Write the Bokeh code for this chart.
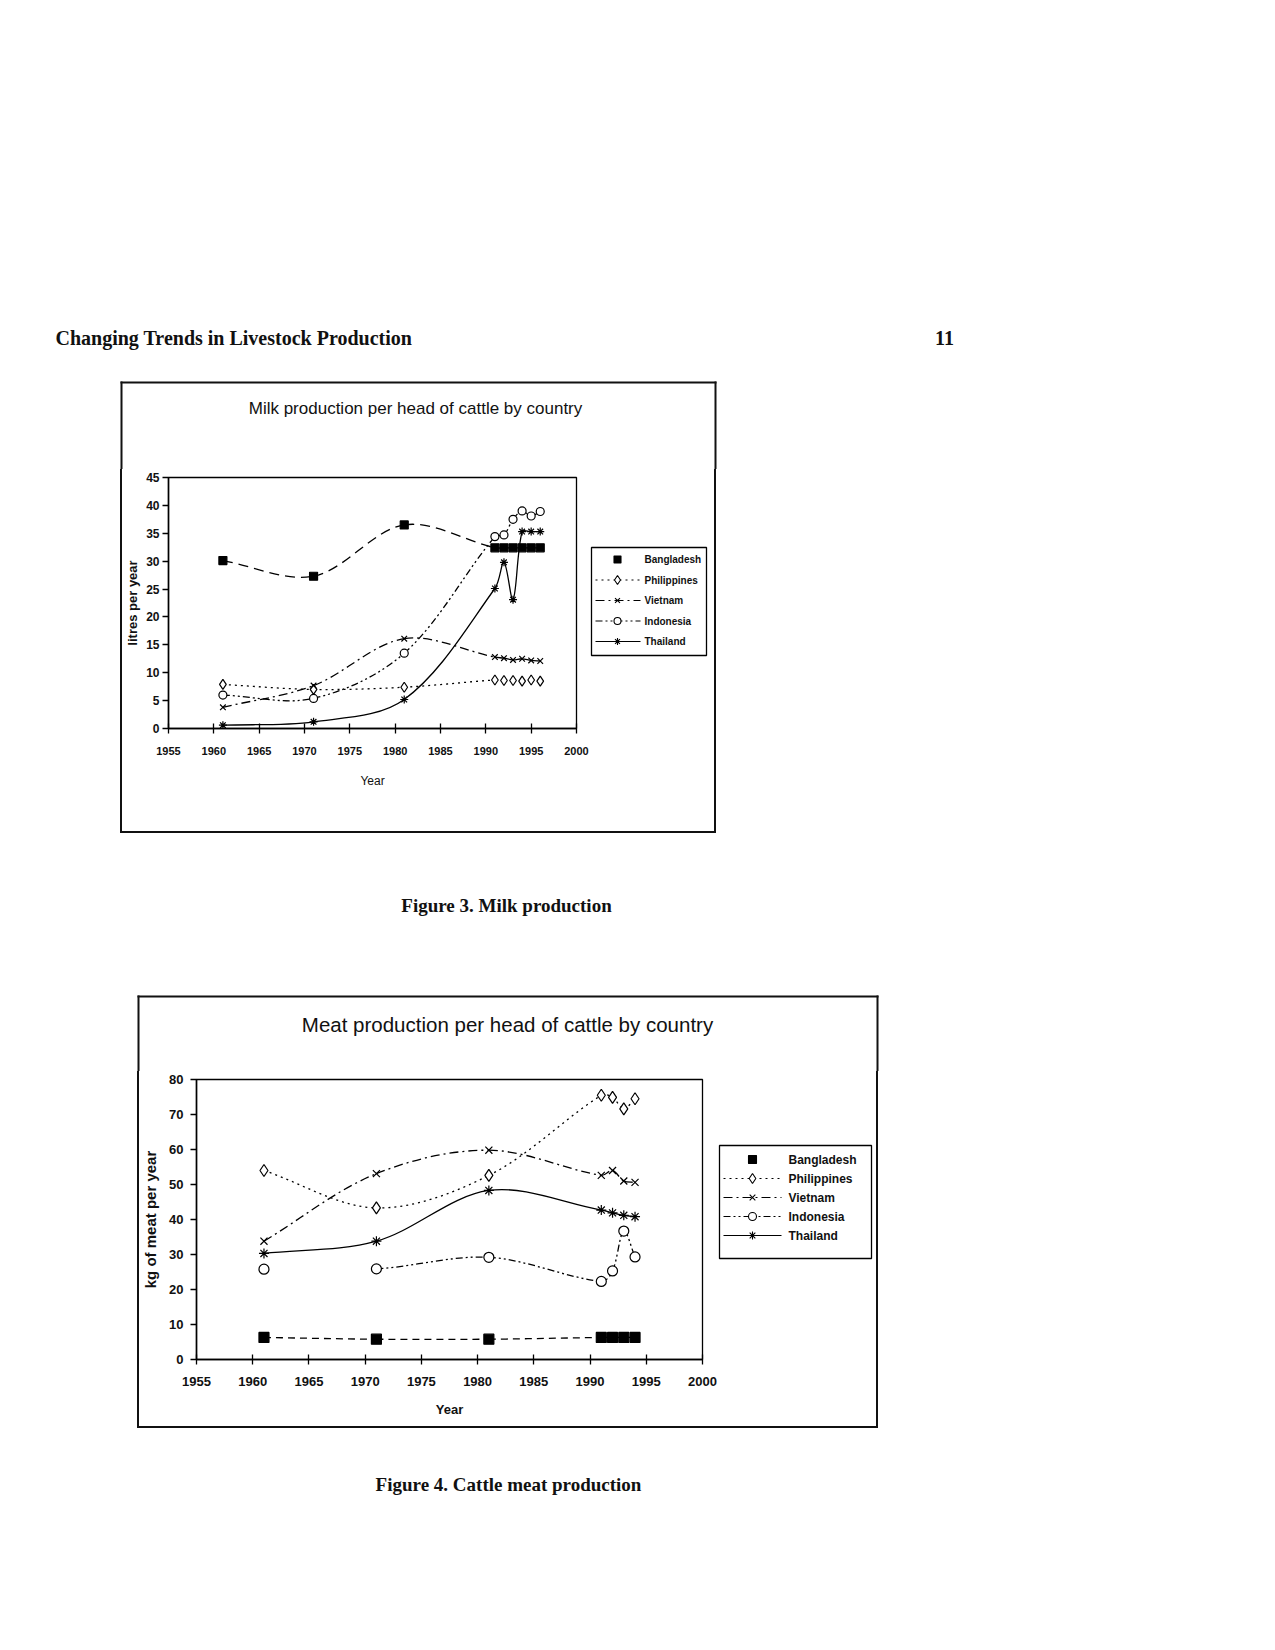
from math import hypot
from bokeh.plotting import figure
from bokeh.models import Range1d, FixedTicker, ColumnDataSource, Spacer
from bokeh.layouts import column, row
from bokeh.embed import file_html
from bokeh.resources import INLINE
from bokeh.core.properties import value

# ---------------- data ----------------
page_title = "Changing Trends in Livestock Production"
page_number = "11"
countries = ["Bangladesh", "Philippines", "Vietnam", "Indonesia", "Thailand"]

x_ticks = [1955, 1960, 1965, 1970, 1975, 1980, 1985, 1990, 1995, 2000]

milk_title = "Milk production per head of cattle by country"
milk_ylabel = "litres per year"
milk_xlabel = "Year"
milk_caption = "Figure 3. Milk production"
milk_y_ticks = [0, 5, 10, 15, 20, 25, 30, 35, 40, 45]
milk_years = [1961, 1971, 1981, 1991, 1992, 1993, 1994, 1995, 1996]
milk_bangladesh = [30.1, 27.3, 36.5, 32.4, 32.4, 32.4, 32.4, 32.4, 32.4]
milk_philippines = [7.9, 7.0, 7.4, 8.7, 8.6, 8.6, 8.5, 8.7, 8.5]
milk_vietnam = [3.8, 7.7, 16.1, 12.8, 12.6, 12.3, 12.5, 12.2, 12.1]
milk_indonesia = [6.0, 5.4, 13.5, 34.4, 34.7, 37.5, 39.0, 38.1, 38.9]
milk_thailand = [0.6, 1.2, 5.2, 25.1, 29.8, 23.1, 35.3, 35.3, 35.3]

meat_title = "Meat production per head of cattle by country"
meat_ylabel = "kg of meat per year"
meat_xlabel = "Year"
meat_caption = "Figure 4. Cattle meat production"
meat_y_ticks = [0, 10, 20, 30, 40, 50, 60, 70, 80]
meat_years = [1961, 1971, 1981, 1991, 1992, 1993, 1994]
meat_bangladesh = [6.3, 5.8, 5.8, 6.3, 6.3, 6.3, 6.3]
meat_philippines = [54.0, 43.3, 52.6, 75.5, 74.9, 71.6, 74.5]
meat_vietnam = [33.8, 53.1, 59.8, 52.6, 54.0, 51.0, 50.6]
meat_indonesia = [25.8, 25.9, 29.2, 22.3, 25.3, 36.7, 29.3]
meat_thailand = [30.3, 33.8, 48.3, 42.7, 41.9, 41.2, 40.8]

# ---------------- styles ----------------
SANS = "Liberation Sans"
SERIF = "Liberation Serif"
INK = "#111"
PAGE_W = 1267
MT = 8  # space above each plot area inside its chart canvas

series_style = {
    "Bangladesh": dict(marker="square", fill="black", dash="9 6"),
    "Philippines": dict(marker="diamond", fill="white", dash="2 4"),
    "Vietnam": dict(marker="x", fill="white", dash="9 4 2 4"),
    "Indonesia": dict(marker="circle", fill="white", dash="7 3 2 3 2 3"),
    "Thailand": dict(marker="asterisk", fill="white", dash="solid"),
}


def smooth_source(xs, ys, kx, ky, skip=()):
    """Excel-like smoothed line as cubic bezier pieces through the data points."""
    n = len(xs)
    d = [hypot((xs[i + 1] - xs[i]) * kx, (ys[i + 1] - ys[i]) * ky) for i in range(n - 1)]
    cols = dict(x0=[], y0=[], x1=[], y1=[], cx0=[], cy0=[], cx1=[], cy1=[])
    for i in range(n - 1):
        if i in skip:
            continue
        a = i - 1 if i > 0 else i
        b = i + 2 if i + 2 < n else i + 1
        dp = d[i - 1] if i > 0 else 0.0
        dn = d[i + 1] if i + 1 < n - 1 else 0.0
        w0 = d[i] / (dp + d[i]) / 3.0 if d[i] > 0 else 0
        w1 = d[i] / (d[i] + dn) / 3.0 if d[i] > 0 else 0
        cols["x0"].append(xs[i]); cols["y0"].append(ys[i])
        cols["x1"].append(xs[i + 1]); cols["y1"].append(ys[i + 1])
        cols["cx0"].append(xs[i] + (xs[i + 1] - xs[a]) * w0)
        cols["cy0"].append(ys[i] + (ys[i + 1] - ys[a]) * w0)
        cols["cx1"].append(xs[i + 1] - (xs[b] - xs[i]) * w1)
        cols["cy1"].append(ys[i + 1] - (ys[b] - ys[i]) * w1)
    return ColumnDataSource(cols)


def page_fig(width, height, x0, y0):
    """A blank piece of the page, addressed in page pixels (y downwards)."""
    p = figure(width=width, height=height, x_range=Range1d(x0, x0 + width),
               y_range=Range1d(y0 + height, y0), output_backend="svg", toolbar_location=None,
               min_border=0, x_axis_location=None, y_axis_location=None)
    p.grid.visible = False
    p.outline_line_color = None
    return p


def box_top(p, cfg):
    """Top edge, upper side edges and title of a chart box, drawn on a page strip."""
    L, T, R = cfg["outer_left"], cfg["outer_top"], cfg["outer_right"]
    B = cfg["frame_top"] - MT
    p.quad(left=[L, L, R - 2], right=[R, L + 2, R], top=[T, T, T], bottom=[T + 2, B, B],
           fill_color=INK, line_color=None)
    p.text(x=[cfg["title_xy"][0]], y=[cfg["title_xy"][1]], text=[cfg["title"]],
           text_font=value(SANS), text_font_size=cfg["title_size"], text_align="center",
           text_baseline="middle", text_color=INK)


def make_chart(cfg, W, H):
    p = figure(width=W, height=H, x_range=Range1d(1955, 2000), y_range=Range1d(0, cfg["ymax"]),
               output_backend="svg", toolbar_location=None,
               min_border_left=cfg["ml"], min_border_right=cfg["mr"],
               min_border_top=MT, min_border_bottom=cfg["mb"])
    p.grid.visible = False
    p.outline_line_color = "black"
    p.outline_line_width = 1.3

    fw = W - cfg["ml"] - cfg["mr"]
    fh = H - MT - cfg["mb"]
    kx = fw / 45.0
    ky = fh / cfg["ymax"]

    xa = p.xaxis[0]
    xa.ticker = FixedTicker(ticks=x_ticks)
    xa.major_tick_in = 5
    xa.major_tick_out = 5
    xa.minor_tick_line_color = None
    xa.axis_line_width = 1.5
    xa.major_tick_line_width = 1.3
    xa.major_label_text_font = SANS
    xa.major_label_text_font_size = cfg["xtick_size"]
    xa.major_label_text_font_style = "bold"
    xa.major_label_text_color = INK
    xa.major_label_standoff = cfg["xl_standoff"]
    xa.axis_label = cfg["xlabel"]
    xa.axis_label_text_font = SANS
    xa.axis_label_text_font_size = cfg["xlab_size"]
    xa.axis_label_text_font_style = cfg["xlab_style"]
    xa.axis_label_text_color = INK
    xa.axis_label_standoff = cfg["xlab_standoff"]

    ya = p.yaxis[0]
    ya.ticker = FixedTicker(ticks=cfg["yticks"])
    ya.major_tick_in = 0
    ya.major_tick_out = 6
    ya.minor_tick_line_color = None
    ya.axis_line_width = 1.5
    ya.major_tick_line_width = 1.3
    ya.major_label_text_font = SANS
    ya.major_label_text_font_size = cfg["ytick_size"]
    ya.major_label_text_font_style = "bold"
    ya.major_label_text_color = INK
    ya.major_label_standoff = cfg["yl_standoff"]
    ya.axis_label = cfg["ylabel"]
    ya.axis_label_text_font = SANS
    ya.axis_label_text_font_size = cfg["ylab_size"]
    ya.axis_label_text_font_style = "bold"
    ya.axis_label_text_color = INK
    ya.axis_label_standoff = cfg["ylab_standoff"]

    for name, vals in zip(countries, cfg["series"]):
        st = series_style[name]
        dash = cfg["bdash"] if name == "Bangladesh" else st["dash"]
        src = smooth_source(cfg["years"], vals, kx, ky, skip=cfg["skip"].get(name, ()))
        p.bezier(x0="x0", y0="y0", x1="x1", y1="y1", cx0="cx0", cy0="cy0",
                 cx1="cx1", cy1="cy1", source=src, line_color="black",
                 line_width=1.3, line_dash=dash)
    for name, vals in zip(countries, cfg["series"]):
        st = series_style[name]
        ms = cfg["msize"] + (2 if st["marker"] == "diamond" else 0)
        p.scatter(x=cfg["years"], y=vals, marker=st["marker"], size=ms,
                  fill_color=st["fill"], line_color="black", line_width=1.2)
    return p


def legend_fig(cfg, x0, width, H):
    """Key box to the right of the plot area; its frame lines up with the plot area,
    so it is addressed in page pixels between the plot area's top and bottom."""
    lg = cfg["legend"]
    f_top = cfg["frame_top"]
    f_bot = cfg["outer_bottom"] - 2 - cfg["mb"]
    p = figure(width=width, height=H, x_range=Range1d(x0, x0 + width),
               y_range=Range1d(f_bot, f_top), output_backend="svg", toolbar_location=None,
               min_border_left=0, min_border_right=0, min_border_top=MT,
               min_border_bottom=cfg["mb"], x_axis_location=None, y_axis_location=None)
    p.grid.visible = False
    p.outline_line_color = None
    L, T, R, B = lg["box"]
    p.quad(left=[L], right=[R], top=[T], bottom=[B], fill_color="white",
           line_color="black", line_width=1.3)
    for i, name in enumerate(countries):
        st = series_style[name]
        y = lg["row0"] + i * lg["pitch"]
        if name != "Bangladesh":
            p.segment(x0=[lg["sx0"]], y0=[y], x1=[lg["sx1"]], y1=[y], line_color="black",
                      line_width=1.2, line_dash=st["dash"])
        ms = lg["msize"] + (2 if st["marker"] == "diamond" else 0)
        p.scatter(x=[lg["mx"]], y=[y], marker=st["marker"], size=ms, fill_color=st["fill"],
                  line_color="black", line_width=1.1)
        p.text(x=[lg["tx"]], y=[y], text=[name], text_font=value(SANS), text_font_style="bold",
               text_font_size=lg["size"], text_baseline="middle", text_align="left",
               text_color=INK)
    return p


def rule(w, h):
    return Spacer(width=w, height=h, styles={"background-color": INK})


def chart_rows(cfg):
    L = cfg["outer_left"]
    inner_l = L + 2
    inner_r = cfg["outer_right"] - 2
    top = cfg["frame_top"] - MT
    H = cfg["outer_bottom"] - 2 - top
    split = cfg["split"]
    ch = make_chart(cfg, split - inner_l, H)
    lf = legend_fig(cfg, split, inner_r - split, H)
    r1 = row(Spacer(width=L, height=H), rule(2, H), ch, lf, rule(2, H), spacing=0)
    r2 = row(Spacer(width=L, height=2), rule(cfg["outer_right"] - L, 2), spacing=0)
    return [r1, r2]


milk_cfg = dict(
    outer_left=120, outer_right=716, outer_top=381, outer_bottom=833, frame_top=477,
    split=589, ml=43, mr=13, mb=103, ymax=45, yticks=milk_y_ticks,
    years=milk_years,
    series=[milk_bangladesh, milk_philippines, milk_vietnam, milk_indonesia, milk_thailand],
    skip={}, bdash="10 6",
    xlabel=milk_xlabel, ylabel=milk_ylabel, title=milk_title, title_xy=(415, 408),
    xtick_size="11px", ytick_size="12px", xlab_size="12px", xlab_style="normal",
    xl_standoff=13, xlab_standoff=16, yl_standoff=3, ylab_size="13px", ylab_standoff=3,
    msize=8, title_size="17px",
    legend=dict(box=(591, 547, 706, 655), row0=559, pitch=20.5, sx0=595, sx1=640, mx=617,
                tx=644, size="10px", msize=7),
)

meat_cfg = dict(
    outer_left=137, outer_right=878, outer_top=995, outer_bottom=1428, frame_top=1079,
    split=717, ml=57, mr=15, mb=67, ymax=80, yticks=meat_y_ticks,
    years=meat_years,
    series=[meat_bangladesh, meat_philippines, meat_vietnam, meat_indonesia, meat_thailand],
    skip={"Indonesia": (0,)}, bdash="7 5",
    xlabel=meat_xlabel, ylabel=meat_ylabel, title=meat_title, title_xy=(507, 1024),
    xtick_size="13px", ytick_size="13px", xlab_size="13px", xlab_style="bold",
    xl_standoff=12, xlab_standoff=13, yl_standoff=7, ylab_size="15px", ylab_standoff=7,
    msize=10, title_size="20.5px",
    legend=dict(box=(719, 1145, 871, 1258), row0=1159, pitch=19, sx0=723, sx1=781, mx=752,
                tx=788, size="12px", msize=8),
)

# strip 1: page top down to just above the milk chart's plot area
top_h = milk_cfg["frame_top"] - MT
top_strip = page_fig(PAGE_W, top_h, 0, 0)
top_strip.text(x=[55], y=[337], text=[page_title], text_font=value(SERIF), text_font_style="bold",
               text_font_size="20px", text_baseline="middle", text_align="left", text_color=INK)
top_strip.text(x=[944], y=[337], text=[page_number], text_font=value(SERIF), text_font_style="bold",
               text_font_size="20px", text_baseline="middle", text_align="center", text_color=INK)
box_top(top_strip, milk_cfg)

# strip 2: between the two charts
mid_y0 = milk_cfg["outer_bottom"]
mid_strip = page_fig(PAGE_W, meat_cfg["frame_top"] - MT - mid_y0, 0, mid_y0)
mid_strip.text(x=[506], y=[905], text=[milk_caption], text_font=value(SERIF), text_font_style="bold",
               text_font_size="19px", text_baseline="middle", text_align="center", text_color=INK)
box_top(mid_strip, meat_cfg)

# strip 3: below the meat chart
bot_y0 = meat_cfg["outer_bottom"]
bot_strip = page_fig(PAGE_W, 1634 - bot_y0, 0, bot_y0)
bot_strip.text(x=[508], y=[1484], text=[meat_caption], text_font=value(SERIF), text_font_style="bold",
               text_font_size="19px", text_baseline="middle", text_align="center", text_color=INK)

layout = column([top_strip] + chart_rows(milk_cfg) + [mid_strip] + chart_rows(meat_cfg) + [bot_strip],
                spacing=0)

open("out.html", "w").write(file_html(layout, INLINE))
